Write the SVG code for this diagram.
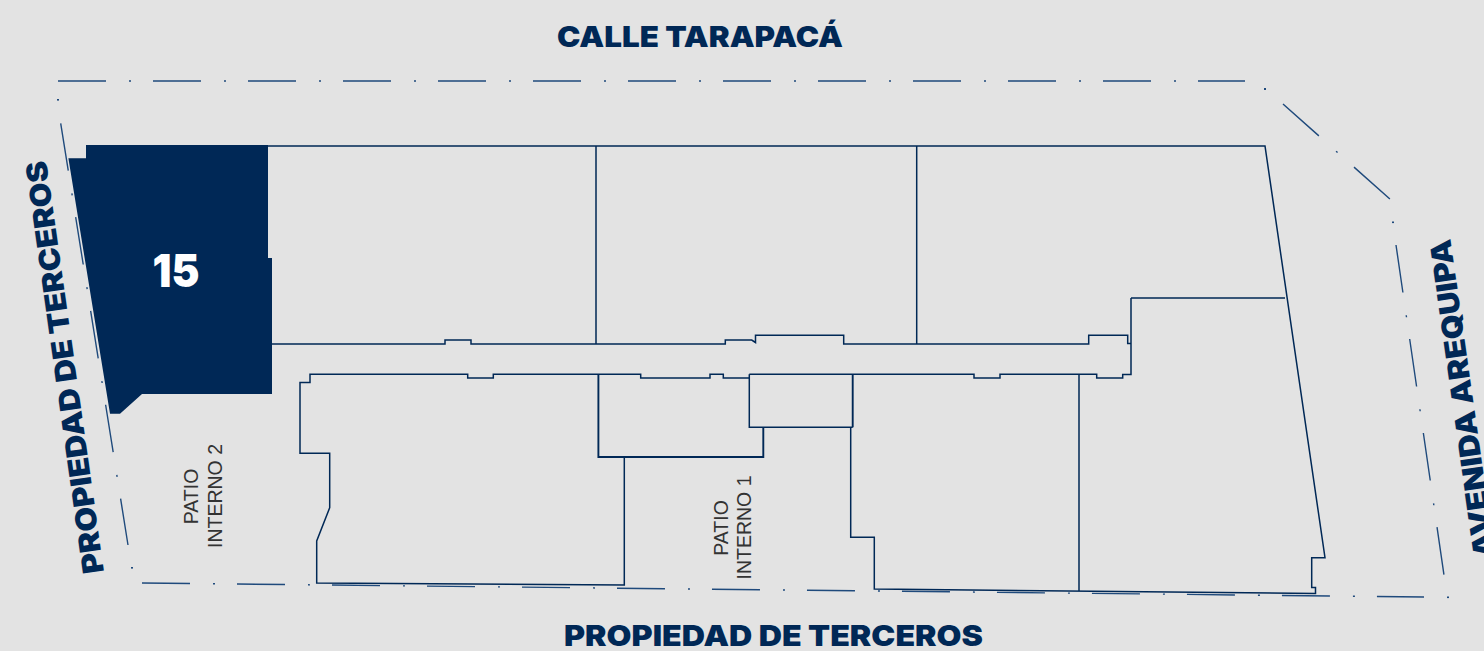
<svg xmlns="http://www.w3.org/2000/svg" width="1484" height="651" viewBox="0 0 1484 651">
<style>
.b{fill:none;stroke:#002856;stroke-width:1.5}
.t{fill:none;stroke:#002856;stroke-width:1.9}
.d{fill:none;stroke:#1f4a7c;stroke-width:1.4;stroke-dasharray:48 23 2 22}
.h{font-family:Inter,"Liberation Sans",sans-serif;font-weight:900;font-size:29px;fill:#002856}
.p{font-family:"Liberation Sans",Arial,sans-serif;font-size:19.5px;fill:#333;text-anchor:middle}
</style>
<rect width="1484" height="651" fill="#e3e3e3"/>
<g id="property-line">
<path class="d" d="M58 81H1245"/>
<path class="d" d="M1283 104L1391 200"/>
<path class="d" d="M1396 245L1444 575"/>
<path class="d" d="M142 583L1424 597"/>
<path class="d" d="M60.7 123.3L128 545"/>
<g fill="#1f4a7c"><rect x="57" y="99" width="2" height="1.6"/><rect x="1264" y="88" width="2" height="2"/><rect x="1392" y="221.5" width="2" height="1.6"/><rect x="131" y="567" width="2" height="1.6"/><rect x="1447" y="596.5" width="2" height="1.6"/></g>
</g>
<g id="units">
<path class="b" d="M268 146H1265L1325 557.7H1311.7V587.5H1315.5V593.5L874.3 589V537.3H850.7V427"/>
<path class="b" d="M272 344H445V340H471V344H725.3V340H751.7L755.5 342.5V335.3H843.7V344H1088.7V335.3H1127.7V343.5H1131"/>
<path class="b" d="M596 146V344M916.7 146V344M1079 374V591M1131 298H1285"/>
<path class="b" d="M624.3 457V585L316.7 583V541L329.7 507.7V453.3H300V382.5H310V374.3H467.7V378H493.3V374.3H640.7V378H710V374.3H723.3V378H749.3"/>
<path class="b" d="M749.3 374.3H974V378H1000V374.3H1096.7V378H1122.7V374.5H1131V298"/>
<path class="t" d="M598.4 374.3V457H763.3V427.3"/>
<path class="b" d="M749.3 374.3V427.3H852.7"/>
<path class="t" d="M852.7 374.3V427.3"/>
</g>
<g id="unit-15">
<path fill="#002856" d="M86 145H268V258H272V394H142L120 413.7H110L68.4 158.3H86Z"/>
<text x="176" y="286.7" text-anchor="middle" textLength="47" lengthAdjust="spacingAndGlyphs" style="font-family:Inter,'Liberation Sans',sans-serif;font-weight:900;font-size:46px;fill:#fff">15</text>
</g>
<g id="labels">
<text class="h" x="557" y="47" textLength="286" lengthAdjust="spacingAndGlyphs">CALLE TARAPACÁ</text>
<text class="h" x="564" y="646" textLength="419" lengthAdjust="spacingAndGlyphs">PROPIEDAD DE TERCEROS</text>
<text class="h" transform="translate(104 572) rotate(-98)" textLength="416" lengthAdjust="spacingAndGlyphs">PROPIEDAD DE TERCEROS</text>
<text class="h" transform="translate(1495 556) rotate(-98)" textLength="321" lengthAdjust="spacingAndGlyphs">AVENIDA AREQUIPA</text>
<text class="p" transform="translate(198 496.5) rotate(-90)">PATIO</text>
<text class="p" transform="translate(221.7 496) rotate(-90)">INTERNO 2</text>
<text class="p" transform="translate(727.5 528) rotate(-90)">PATIO</text>
<text class="p" transform="translate(750.7 527.5) rotate(-90)">INTERNO 1</text>
</g>
</svg>
